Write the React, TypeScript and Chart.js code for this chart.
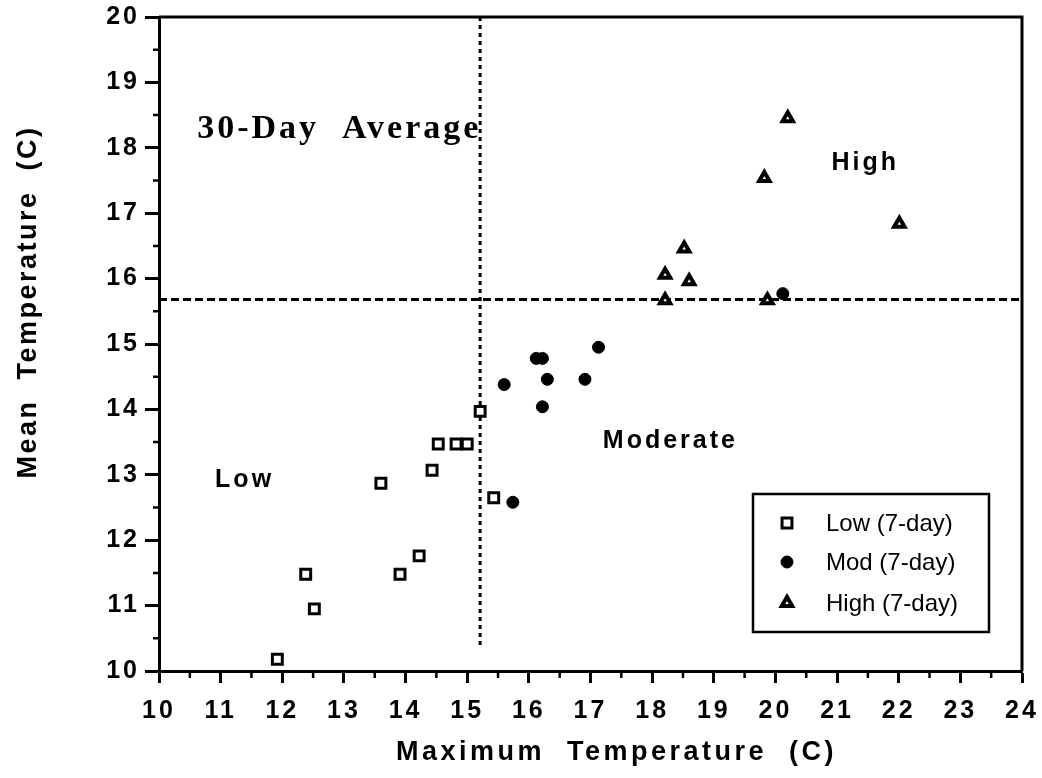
import { useEffect, useRef } from 'react';
import { Chart, registerables } from 'chart.js';

Chart.register(...registerables);

// ---- data ----
const lowMaxTemp = [11.92, 12.38, 12.52, 13.6, 13.91, 14.22, 14.43, 14.53, 14.82, 15.0, 15.21, 15.43];
const lowMeanTemp = [10.18, 11.48, 10.95, 12.87, 11.48, 11.76, 13.07, 13.47, 13.47, 13.47, 13.97, 12.65];

const modMaxTemp = [15.6, 15.74, 16.12, 16.22, 16.3, 16.22, 16.91, 17.13, 20.12];
const modMeanTemp = [14.38, 12.58, 14.78, 14.78, 14.46, 14.04, 14.46, 14.95, 15.77];

const highMaxTemp = [18.21, 18.21, 18.6, 18.52, 19.82, 20.2, 22.01, 19.87];
const highMeanTemp = [15.67, 16.06, 15.96, 16.46, 17.54, 18.45, 16.84, 15.67];

const avgMaxTemp30 = 15.21;
const avgMeanTemp30 = 15.68;
const avgLineMeanRange = [20, 10.35];
const avgLineMaxRange = [10, 24];

const xRange = [10, 24];
const yRange = [10, 20];

const seriesLabels = ['Low (7-day)', 'Mod (7-day)', 'High (7-day)'];
const regionLabels = ['Low', 'Moderate', 'High'];
const regionMaxTemp = [10.91, 17.2, 20.91];
const regionMeanTemp = [12.92, 13.52, 17.77];
const panelTitle = '30-Day  Average';
const panelTitleAt = [10.62, 18.15];
const xTitle = 'Maximum  Temperature  (C)';
const yTitle = 'Mean  Temperature  (C)';

const SANS = '"Liberation Sans", Arial, Helvetica, sans-serif';
const SERIF = '"Liberation Serif", "Times New Roman", serif';

const zip = (xs: number[], ys: number[]) => xs.map((x, i) => ({ x, y: ys[i] }));

function drawMarker(ctx: CanvasRenderingContext2D, style: string, x: number, y: number, r: number, bw: number, fill: string) {
  ctx.save();
  ctx.beginPath();
  if (style === 'rect') {
    const s = Math.SQRT1_2 * r;
    ctx.rect(x - s, y - s, 2 * s, 2 * s);
  } else if (style === 'triangle') {
    let rad = 0;
    ctx.moveTo(x + Math.sin(rad) * r, y - Math.cos(rad) * r);
    rad += (2 * Math.PI) / 3;
    ctx.lineTo(x + Math.sin(rad) * r, y - Math.cos(rad) * r);
    rad += (2 * Math.PI) / 3;
    ctx.lineTo(x + Math.sin(rad) * r, y - Math.cos(rad) * r);
    ctx.closePath();
  } else {
    ctx.arc(x, y, r, 0, Math.PI * 2);
  }
  ctx.fillStyle = fill;
  ctx.fill();
  ctx.lineWidth = bw;
  ctx.strokeStyle = '#000';
  ctx.stroke();
  ctx.restore();
}

const decorPlugin = {
  id: 'decor',
  beforeDraw(chart: any) {
    const ctx = chart.ctx as CanvasRenderingContext2D;
    ctx.save();
    ctx.fillStyle = '#fff';
    ctx.fillRect(0, 0, chart.width, chart.height);
    ctx.restore();
    (ctx as any).letterSpacing = '3px';
  },
  beforeDatasetsDraw(chart: any) {
    const ctx = chart.ctx as CanvasRenderingContext2D;
    const a = chart.chartArea;
    const sx = chart.scales.x;
    const sy = chart.scales.y;
    ctx.save();
    ctx.strokeStyle = '#000';
    ctx.lineWidth = 3;
    ctx.beginPath();
    ctx.moveTo(a.left, a.top);
    ctx.lineTo(a.right, a.top);
    ctx.lineTo(a.right, a.bottom);
    ctx.stroke();
    // minor (half-unit) ticks
    ctx.lineWidth = 2.5;
    ctx.beginPath();
    for (let v = yRange[0] + 0.5; v < yRange[1]; v += 1) {
      const py = sy.getPixelForValue(v);
      ctx.moveTo(a.left - 6, py);
      ctx.lineTo(a.left, py);
    }
    for (let v = xRange[0] + 0.5; v < xRange[1]; v += 1) {
      const px = sx.getPixelForValue(v);
      ctx.moveTo(px, a.bottom);
      ctx.lineTo(px, a.bottom + 7);
    }
    ctx.stroke();
    ctx.restore();
  },
  afterDraw(chart: any) {
    const ctx = chart.ctx as CanvasRenderingContext2D;
    const a = chart.chartArea;
    const sx = chart.scales.x;
    const sy = chart.scales.y;
    ctx.save();
    ctx.fillStyle = '#000';

    // region labels
    (ctx as any).letterSpacing = '3px';
    ctx.font = `bold 25px ${SANS}`;
    ctx.textAlign = 'left';
    ctx.textBaseline = 'middle';
    regionLabels.forEach((t, i) => {
      ctx.fillText(t, sx.getPixelForValue(regionMaxTemp[i]), sy.getPixelForValue(regionMeanTemp[i]));
    });

    // panel title
    ctx.font = `bold 34px ${SERIF}`;
    ctx.textBaseline = 'alphabetic';
    ctx.fillText(panelTitle, sx.getPixelForValue(panelTitleAt[0]), sy.getPixelForValue(panelTitleAt[1]));

    // axis titles
    (ctx as any).letterSpacing = '3.5px';
    ctx.font = `bold 27px ${SANS}`;
    ctx.textAlign = 'center';
    ctx.textBaseline = 'middle';
    ctx.fillText(xTitle, (a.left + a.right) / 2 + 26, 753);
    (ctx as any).letterSpacing = '2.5px';
    ctx.save();
    ctx.translate(29, 302);
    ctx.rotate(-Math.PI / 2);
    ctx.fillText(yTitle, 0, 0);
    ctx.restore();

    // legend
    (ctx as any).letterSpacing = '0px';
    const boxW = 236;
    const boxH = 138;
    const bx = a.right - 33 - boxW;
    const by = a.bottom - 39 - boxH;
    ctx.fillStyle = '#fff';
    ctx.fillRect(bx, by, boxW, boxH);
    ctx.strokeStyle = '#000';
    ctx.lineWidth = 2.5;
    ctx.strokeRect(bx, by, boxW, boxH);
    const ds = chart.data.datasets;
    const rows = [29, 68, 109];
    ctx.font = `24px ${SANS}`;
    ctx.textAlign = 'left';
    ctx.textBaseline = 'middle';
    for (let i = 0; i < 3; i++) {
      const d = ds[i];
      const yy = by + rows[i];
      drawMarker(ctx, d.pointStyle, bx + 34, yy, d.pointRadius, d.borderWidth, d.backgroundColor);
      ctx.fillStyle = '#000';
      ctx.fillText(seriesLabels[i], bx + 73, yy + 1);
    }
    ctx.restore();
  },
};

export default function App() {
  const ref = useRef<HTMLCanvasElement>(null);
  useEffect(() => {
    if (!ref.current) return;
    const tickFont = { family: SANS, size: 25, weight: 'bold' as const };
    const chart = new Chart(ref.current, {
      type: 'scatter',
      data: {
        datasets: [
          {
            label: seriesLabels[0],
            data: zip(lowMaxTemp, lowMeanTemp),
            pointStyle: 'rect',
            pointRadius: 7,
            borderWidth: 3,
            borderColor: '#000',
            backgroundColor: '#fff',
            order: 0,
          },
          {
            label: seriesLabels[1],
            data: zip(modMaxTemp, modMeanTemp),
            pointStyle: 'circle',
            pointRadius: 6,
            borderWidth: 1,
            borderColor: '#000',
            backgroundColor: '#000',
            order: 0,
          },
          {
            label: seriesLabels[2],
            data: zip(highMaxTemp, highMeanTemp),
            pointStyle: 'triangle',
            pointRadius: 6,
            borderWidth: 4,
            borderColor: '#000',
            backgroundColor: '#fff',
            order: 0,
          },
          {
            type: 'line',
            label: '30-day max',
            data: avgLineMeanRange.map((y) => ({ x: avgMaxTemp30, y })),
            borderColor: '#000',
            borderWidth: 3,
            borderDash: [4, 4],
            pointRadius: 0,
            fill: false,
            order: 10,
          },
          {
            type: 'line',
            label: '30-day mean',
            data: avgLineMaxRange.map((x) => ({ x, y: avgMeanTemp30 })),
            borderColor: '#000',
            borderWidth: 3,
            borderDash: [8, 4],
            pointRadius: 0,
            fill: false,
            order: 10,
          },
        ] as any,
      },
      options: {
        responsive: false,
        animation: false,
        devicePixelRatio: 1,
        layout: { padding: { top: 17, right: 20, left: 0, bottom: 0 } },
        plugins: { legend: { display: false }, tooltip: { enabled: false } },
        scales: {
          x: {
            type: 'linear',
            min: xRange[0],
            max: xRange[1],
            ticks: { stepSize: 1, color: '#000', font: tickFont, padding: 13, maxRotation: 0, autoSkip: false },
            grid: { display: true, drawOnChartArea: false, drawTicks: true, tickLength: 12, tickWidth: 3, tickColor: '#000' },
            border: { display: true, color: '#000', width: 3 },
            afterFit: (s: any) => {
              s.height = 107;
              s.paddingLeft = 0;
              s.paddingRight = 0;
            },
          },
          y: {
            type: 'linear',
            min: yRange[0],
            max: yRange[1],
            ticks: { stepSize: 1, color: '#000', font: tickFont, padding: 5, autoSkip: false },
            grid: { display: true, drawOnChartArea: false, drawTicks: true, tickLength: 14, tickWidth: 3, tickColor: '#000' },
            border: { display: true, color: '#000', width: 3 },
            afterFit: (s: any) => {
              s.width = 159;
              s.paddingTop = 0;
              s.paddingBottom = 0;
            },
          },
        },
      } as any,
      plugins: [decorPlugin],
    });
    return () => chart.destroy();
  }, []);
  return (
    <canvas
      ref={ref}
      width={1042}
      height={778}
      style={{ position: 'absolute', left: 0, top: 0, width: 1042, height: 778, display: 'block' }}
    />
  );
}
